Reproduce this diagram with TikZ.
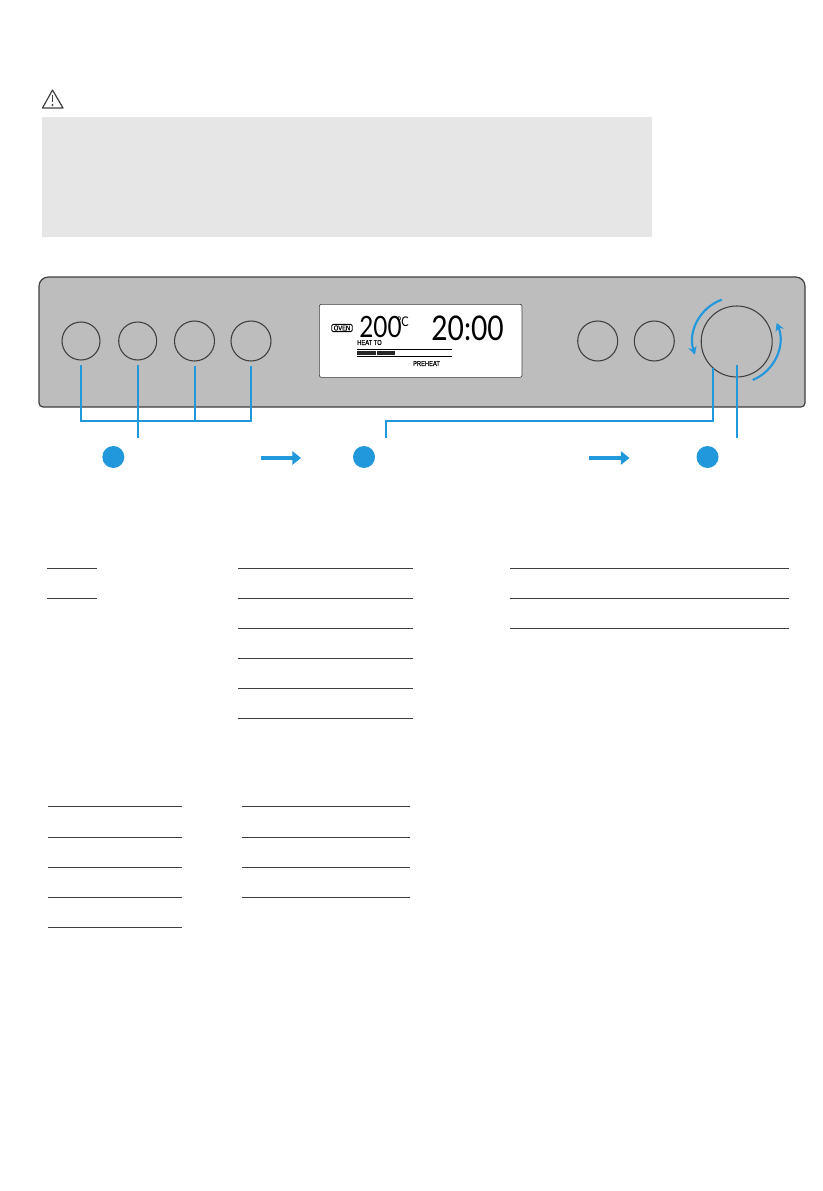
\documentclass[tikz,border=0pt]{standalone}
\usepackage{fontspec}
\setmainfont{Liberation Sans}
\newfontfamily\lcdfont[FakeStretch=0.83]{Lato}
\newfontfamily\tagfont[FakeStretch=0.8,FakeBold=0.6]{Liberation Sans}
\usepackage{xcolor}
\usetikzlibrary{arrows.meta, calc}
\definecolor{panelgrey}{HTML}{BDBDBD}
\definecolor{notegrey}{HTML}{E6E6E6}
\definecolor{guideblue}{HTML}{2298DC}
\definecolor{inkgrey}{HTML}{3F3F3F}

\begin{document}
\begin{tikzpicture}[
    x=0.75pt, y=-0.75pt,
    btn/.style={circle, draw=inkgrey, line width=0.8pt, inner sep=0pt, minimum size=#1*0.75pt},
    guide/.style={draw=guideblue, line width=1.5pt},
    turn/.style={draw=guideblue, line width=1.6pt, -{Stealth[length=6pt, width=6.5pt]}},
    flow/.style={draw=guideblue, line width=3.6pt, -{Triangle[length=6.5pt, width=10pt]}},
    stepdot/.style={circle, fill=guideblue, inner sep=0pt, minimum size=16.5pt},
    rule/.style={draw=inkgrey, line width=0.8pt},
    lcd/.style={inner sep=0pt, text=black, font=\fontsize{5.4}{5.4}\tagfont}
]
    \useasboundingbox (0,0) rectangle (822,1191);

    % warning note
    \node (note) [rectangle, fill=notegrey, anchor=north west, minimum width=457.5pt, minimum height=90pt, inner sep=0pt] at (42,117) {};
    \coordinate (wtop) at (52.5,90);
    \draw [inkgrey, line width=0.9pt, line join=round] (wtop) -- (63,108) -- (42.5,108) -- cycle;
    \draw [inkgrey, line width=1.3pt] (52.5,95.5) -- (52.5,102.5);
    \fill [inkgrey] (52.5,105) circle (0.9pt);

    % panel
    \draw [draw=inkgrey, fill=panelgrey, line width=0.9pt]
        (39,300) [rounded corners=7pt] -- (39,277) -- (805,277) -- (805,300)
        [rounded corners=3pt] -- (805,407) -- (39,407) -- cycle;

    \node (btna) [btn=38] at (81,341) {};
    \node (btnb) [btn=38] at (137.7,341) {};
    \node (btnc) [btn=40] at (194.5,341) {};
    \node (btnd) [btn=40] at (251,341) {};
    \node (btne) [btn=40] at (597.7,341) {};
    \node (btnf) [btn=40] at (654.3,341) {};
    \node (dial) [btn=71] at (736.7,341.5) {};

    % display
    \node (screen) [rectangle, draw=inkgrey, fill=white, rounded corners=1.5pt, line width=0.5pt, anchor=north west, minimum width=152pt, minimum height=54.75pt, inner sep=0pt] at (319,304) {};
    \node (oven) [lcd, draw=black, rounded corners=1pt, line width=0.6pt, inner xsep=1.5pt, inner ysep=0.8pt] at (342,328) {OVEN};
    \node (temp) [inner sep=0pt, anchor=west, font=\fontsize{22}{22}\lcdfont] at (359,326.5) {200};
    \node (unit) [inner sep=0pt, anchor=west, font=\fontsize{10}{10}\lcdfont] at (396.5,321.5) {°C};
    \node (clock) [inner sep=0pt, anchor=west, font=\fontsize{25.5}{25.5}\lcdfont] at (431,328.5) {20:00};
    \node (heat) [lcd, anchor=west] at (357,342.5) {HEAT TO};
    \node (pre) [lcd, anchor=center] at (426.5,363.5) {PREHEAT};
    \draw [black, line width=0.7pt] (357,349) -- (452,349);
    \draw [black, line width=0.7pt] (357,356.5) -- (452,356.5);
    \fill [black!85] (357,351) rectangle (375.5,354.5);
    \fill [black!85] (376.5,351) rectangle (394.5,354.5);

    % turn arrows
    \draw [turn] (721.7,299.7) arc[start angle=110, end angle=198, radius=33pt];
    \draw [turn] (752.7,380) arc[start angle=-67.5, end angle=22, radius=33pt];

    % step markers
    \node (stepa) [stepdot] at (113.3,457) {};
    \node (stepb) [stepdot] at (364,457) {};
    \node (stepc) [stepdot] at (707.5,457) {};
    \coordinate (flowa) at (260.7,458);
    \coordinate (flowb) at (301,458);
    \coordinate (flowc) at (589,458);
    \coordinate (flowd) at (629.5,458);
    \draw [flow] (flowa) -- (flowb);
    \draw [flow] (flowc) -- (flowd);

    % guides
    \coordinate (buscd) at (194.5,420.7);
    \coordinate (stema) at (137.7,438);
    \coordinate (stemb) at (386,438);
    \coordinate (stemc) at (736.7,438);
    \draw [guide] ([yshift=-3.5pt]btna.south) |- (buscd);
    \draw [guide] ([yshift=-3.5pt]btnd.south) |- (buscd);
    \draw [guide] ([yshift=-3pt]btnc.south) -- (buscd);
    \draw [guide] ([yshift=-3.5pt]btnb.south) -- (stema);
    \draw [guide] (dial.-132) |- ($(stemb)+(0,-17.3)$) -- (stemb);
    \draw [guide] ([yshift=-17.6pt]dial.center) -- (stemc);

    % blank rules
    \foreach \y in {568.3,598.3} \draw [rule] (47,\y) -- (97,\y);
    \foreach \y in {568.3,598.3,628.3,658.3,688.3,718.3} \draw [rule] (238,\y) -- (413,\y);
    \foreach \y in {568.3,598.3,628.3} \draw [rule] (510,\y) -- (789,\y);
    \foreach \y in {806.3,837.3,867.3,897.3,927.3} \draw [rule] (48,\y) -- (182,\y);
    \foreach \y in {806.3,837.3,867.3,897.3} \draw [rule] (242,\y) -- (410,\y);
\end{tikzpicture}
\end{document}
